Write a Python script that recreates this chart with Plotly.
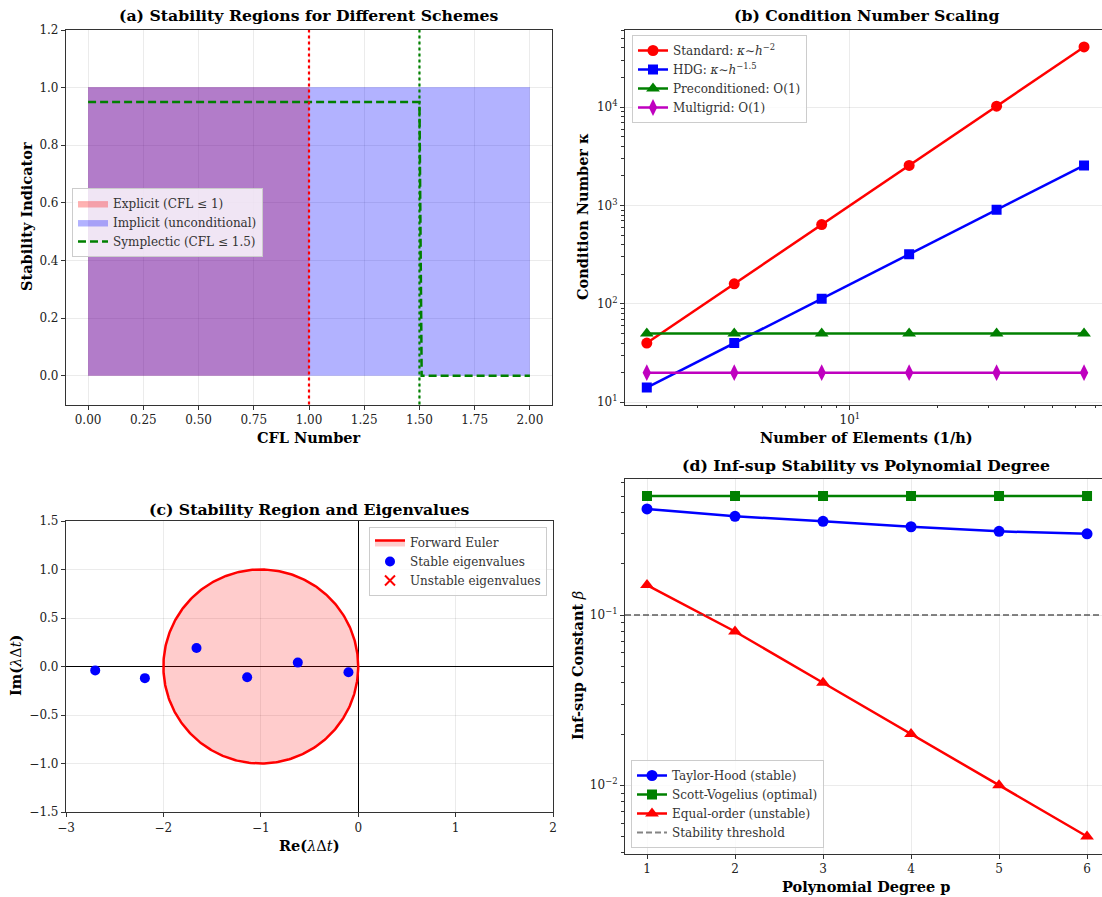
import numpy as np
import plotly.graph_objects as go

# ---------------- data ----------------
# (a) stability regions
explicit_cfl = [0.0, 1.0]
explicit_level = [1.0, 1.0]
implicit_cfl = [0.0, 2.0]
implicit_level = [1.0, 1.0]
symplectic_cfl = [0.0, 1.5, 1.51, 2.0]
symplectic_level = [0.95, 0.95, 0.0, 0.0]
explicit_limit = 1.0
symplectic_limit = 1.5

# (b) condition number scaling
n_elements = [2, 4, 8, 16, 32, 64]
kappa_standard = [40, 160, 640, 2560, 10240, 40960]
kappa_hdg = [14.1, 40, 113, 320, 905, 2560]
kappa_precond = [50, 50, 50, 50, 50, 50]
kappa_multigrid = [20, 20, 20, 20, 20, 20]

# (c) eigenvalues
eig_re = [-2.70, -2.19, -1.66, -1.14, -0.62, -0.10]
eig_im = [-0.04, -0.12, 0.19, -0.11, 0.04, -0.06]
unstable_re = [None]
unstable_im = [None]
fe_center = -1.0
fe_radius = 1.0

# (d) inf-sup
degree = [1, 2, 3, 4, 5, 6]
beta_taylor_hood = [0.42, 0.38, 0.355, 0.33, 0.31, 0.30]
beta_scott_vogelius = [0.5, 0.5, 0.5, 0.5, 0.5, 0.5]
beta_equal_order = [0.15, 0.08, 0.04, 0.02, 0.01, 0.005]
beta_threshold = 0.1

# ---------------- figure ----------------
W, H = 1102, 897
FONT = "DejaVu Serif"
TXT = "#222222"

def px_x(a, b):
    return [a / W, b / W]

def px_y(top, bottom):
    return [1 - bottom / H, 1 - top / H]

fig = go.Figure()

# (a)
fig.add_trace(go.Scatter(x=explicit_cfl, y=explicit_level, fill="tozeroy", mode="lines",
                         line=dict(width=0.5, color="rgba(255,0,0,0.3)"),
                         fillcolor="rgba(255,0,0,0.3)", name="Explicit (CFL ≤ 1)",
                         xaxis="x", yaxis="y", legend="legend"))
fig.add_trace(go.Scatter(x=implicit_cfl, y=implicit_level, fill="tozeroy", mode="lines",
                         line=dict(width=0.5, color="rgba(0,0,255,0.3)"),
                         fillcolor="rgba(0,0,255,0.3)", name="Implicit (unconditional)",
                         xaxis="x", yaxis="y", legend="legend"))
fig.add_trace(go.Scatter(x=symplectic_cfl, y=symplectic_level, mode="lines",
                         line=dict(width=2.5, color="green", dash="8px,4px"),
                         name="Symplectic (CFL ≤ 1.5)", xaxis="x", yaxis="y", legend="legend"))

# (b)
common_b = dict(xaxis="x2", yaxis="y2", legend="legend2", mode="lines+markers")
fig.add_trace(go.Scatter(x=n_elements, y=kappa_standard, line=dict(color="red", width=2.5),
                         marker=dict(symbol="circle", size=11, color="red"),
                         name="Standard: <i>κ</i>∼<i>h</i><sup>−2</sup>", **common_b))
fig.add_trace(go.Scatter(x=n_elements, y=kappa_hdg, line=dict(color="blue", width=2.5),
                         marker=dict(symbol="square", size=10, color="blue"),
                         name="HDG: <i>κ</i>∼<i>h</i><sup>−1.5</sup>", **common_b))
fig.add_trace(go.Scatter(x=n_elements, y=kappa_precond, line=dict(color="green", width=2.5),
                         marker=dict(symbol="triangle-up", size=12, color="green"),
                         name="Preconditioned: O(1)", **common_b))
fig.add_trace(go.Scatter(x=n_elements, y=kappa_multigrid, line=dict(color="#bf00bf", width=2.5),
                         marker=dict(symbol="diamond-tall", size=12, color="#bf00bf"),
                         name="Multigrid: O(1)", **common_b))

# (c)
theta = np.linspace(0, 2 * np.pi, 361)
fig.add_trace(go.Scatter(x=fe_center + fe_radius * np.cos(theta), y=fe_radius * np.sin(theta),
                         mode="lines", fill="toself", fillcolor="rgba(255,0,0,0.2)",
                         line=dict(color="red", width=2.5), name="Forward Euler",
                         xaxis="x3", yaxis="y3", legend="legend3"))
fig.add_trace(go.Scatter(x=eig_re, y=eig_im, mode="markers",
                         marker=dict(symbol="circle", size=10, color="blue"),
                         name="Stable eigenvalues", xaxis="x3", yaxis="y3", legend="legend3"))
fig.add_trace(go.Scatter(x=unstable_re, y=unstable_im, mode="markers",
                         marker=dict(symbol="x-thin", size=10, color="red",
                                     line=dict(color="red", width=2)),
                         name="Unstable eigenvalues", xaxis="x3", yaxis="y3", legend="legend3"))

# (d)
common_d = dict(xaxis="x4", yaxis="y4", legend="legend4", mode="lines+markers")
fig.add_trace(go.Scatter(x=degree, y=beta_taylor_hood, line=dict(color="blue", width=2.5),
                         marker=dict(symbol="circle", size=11, color="blue"),
                         name="Taylor-Hood (stable)", **common_d))
fig.add_trace(go.Scatter(x=degree, y=beta_scott_vogelius, line=dict(color="green", width=2.5),
                         marker=dict(symbol="square", size=10, color="green"),
                         name="Scott-Vogelius (optimal)", **common_d))
fig.add_trace(go.Scatter(x=degree, y=beta_equal_order, line=dict(color="red", width=2.5),
                         marker=dict(symbol="triangle-up", size=12, color="red"),
                         name="Equal-order (unstable)", **common_d))

# shapes
fig.add_shape(type="line", xref="x", yref="y domain", x0=explicit_limit, x1=explicit_limit,
              y0=0, y1=1, line=dict(color="red", width=2.2, dash="dot"))
fig.add_shape(type="line", xref="x", yref="y domain", x0=symplectic_limit, x1=symplectic_limit,
              y0=0, y1=1, line=dict(color="green", width=2.2, dash="dot"))
fig.add_shape(type="line", xref="x4 domain", yref="y4", x0=0, x1=1,
              y0=beta_threshold, y1=beta_threshold,
              line=dict(color="rgba(80,80,80,0.7)", width=1.8, dash="6px,3px"),
              showlegend=True, name="Stability threshold", legend="legend4")

tickfont = dict(family=FONT, size=12, color=TXT)
grid = "rgba(0,0,0,0.08)"

def axis_common(**kw):
    d = dict(showline=True, linecolor="#333333", linewidth=1.2, mirror=True,
             ticks="outside", ticklen=4, tickcolor="#333333", tickfont=tickfont,
             showgrid=True, gridcolor=grid, gridwidth=1, zeroline=False,
             automargin=False)
    d.update(kw)
    return d

sup = {1: "10<sup>1</sup>", 2: "10<sup>2</sup>", 3: "10<sup>3</sup>", 4: "10<sup>4</sup>"}

minor_b_y = [m * 10 ** e for e in range(1, 5) for m in range(2, 10)]
minor_b_x = [m * 10 ** e for e in range(0, 2) for m in range(2, 10)]
minor_d_y = [m * 10 ** e for e in (-3, -2, -1) for m in range(2, 10)]

fig.update_layout(
    width=W, height=H,
    margin=dict(l=0, r=0, t=0, b=0, autoexpand=False),
    paper_bgcolor="white", plot_bgcolor="white",
    font=dict(family=FONT, color=TXT),
    xaxis=axis_common(domain=px_x(66, 552), range=[-0.1, 2.1],
                      tickvals=[0, 0.25, 0.5, 0.75, 1.0, 1.25, 1.5, 1.75, 2.0],
                      ticktext=["0.00", "0.25", "0.50", "0.75", "1.00", "1.25", "1.50", "1.75", "2.00"],
                      anchor="y"),
    yaxis=axis_common(domain=px_y(30, 404.5), range=[-0.1, 1.2],
                      tickvals=[0, 0.2, 0.4, 0.6, 0.8, 1.0, 1.2],
                      ticktext=["0.0", "0.2", "0.4", "0.6", "0.8", "1.0", "1.2"],
                      anchor="x"),
    xaxis2=axis_common(domain=px_x(625, 1102), type="log", range=[0.226, 1.868],
                       tickvals=[10], ticktext=["10<sup>1</sup>"],
                       minor=dict(tickvals=minor_b_x, ticks="outside", ticklen=2.5,
                                  tickcolor="#333333", showgrid=False),
                       anchor="y2"),
    yaxis2=axis_common(domain=px_y(30, 404.5), type="log", range=[0.977, 4.785],
                       tickvals=[10, 100, 1000, 10000], ticktext=[sup[1], sup[2], sup[3], sup[4]],
                       minor=dict(tickvals=minor_b_y, ticks="outside", ticklen=2.5,
                                  tickcolor="#333333", showgrid=False),
                       anchor="x2"),
    xaxis3=axis_common(domain=px_x(66, 553), range=[-3, 2], tickvals=[-3, -2, -1, 0, 1, 2],
                       ticktext=["−3", "−2", "−1", "0", "1", "2"],
                       zeroline=True, zerolinecolor="black", zerolinewidth=1,
                       anchor="y3"),
    yaxis3=axis_common(domain=px_y(521, 812), range=[-1.5, 1.5],
                       tickvals=[-1.5, -1.0, -0.5, 0, 0.5, 1.0, 1.5],
                       ticktext=["−1.5", "−1.0", "−0.5", "0.0", "0.5", "1.0", "1.5"],
                       zeroline=True, zerolinecolor="black", zerolinewidth=1,
                       anchor="x3"),
    xaxis4=axis_common(domain=px_x(625, 1102), range=[0.75, 6.17], tickvals=degree,
                       anchor="y4"),
    yaxis4=axis_common(domain=px_y(479, 853.5), type="log", range=[-2.401, -0.201],
                       tickvals=[0.01, 0.1], ticktext=["10<sup>−2</sup>", "10<sup>−1</sup>"],
                       minor=dict(tickvals=minor_d_y, ticks="outside", ticklen=2.5,
                                  tickcolor="#333333", showgrid=False),
                       anchor="x4"),
)

legend_common = dict(bgcolor="rgba(255,255,255,0.8)", bordercolor="#cccccc", borderwidth=1,
                     font=dict(family=FONT, size=12, color="#333333"),
                     tracegroupgap=0, itemwidth=30)
fig.update_layout(
    legend=dict(x=72 / W, y=1 - 188 / H, xanchor="left", yanchor="top", **legend_common),
    legend2=dict(x=632 / W, y=1 - 35 / H, xanchor="left", yanchor="top", **legend_common),
    legend3=dict(x=547 / W, y=1 - 527 / H, xanchor="right", yanchor="top", **legend_common),
    legend4=dict(x=631 / W, y=1 - 848 / H, xanchor="left", yanchor="bottom", **legend_common),
)

def text_ann(text, xc, yc, size, angle=0):
    return dict(text=text, x=xc / W, y=1 - yc / H, xref="paper", yref="paper",
                showarrow=False, xanchor="center", yanchor="middle", textangle=angle,
                font=dict(family=FONT, size=size, color="black"))

TS = 15.7
AS = 14.5
fig.update_layout(annotations=[
    text_ann("<b>(a) Stability Regions for Different Schemes</b>", 309, 16, TS),
    text_ann("<b>(b) Condition Number Scaling</b>", 866, 16, TS),
    text_ann("<b>(c) Stability Region and Eigenvalues</b>", 309, 509, TS),
    text_ann("<b>(d) Inf-sup Stability vs Polynomial Degree</b>", 866, 466, TS),
    text_ann("<b>CFL Number</b>", 309, 437, AS),
    text_ann("<b>Stability Indicator</b>", 26, 217, AS, -90),
    text_ann("<b>Number of Elements (1/h)</b>", 866, 437, AS),
    text_ann("<b>Condition Number κ</b>", 582, 217, AS, -90),
    text_ann("<b>Re(</b><i>λ</i>Δ<i>t</i><b>)</b>", 309, 845, AS),
    text_ann("<b>Im(</b><i>λ</i>Δ<i>t</i><b>)</b>", 15, 666, AS, -90),
    text_ann("<b>Polynomial Degree p</b>", 866, 886, AS),
    text_ann("<b>Inf-sup Constant</b> <i>β</i>", 577, 666, AS, -90),
])

fig.write_html("out.html")
